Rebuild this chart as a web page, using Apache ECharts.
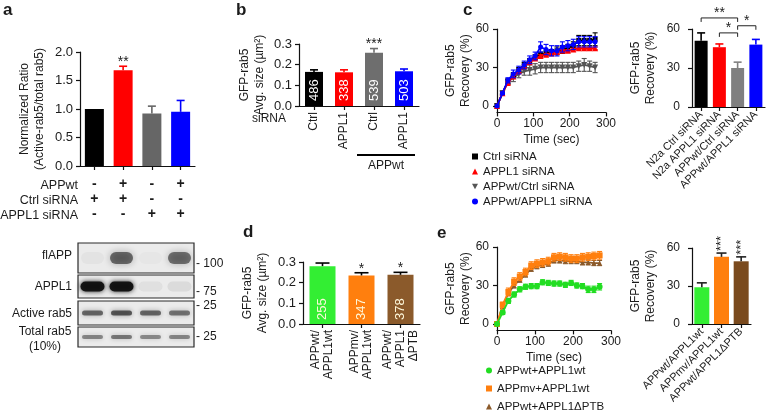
<!DOCTYPE html>
<html><head><meta charset="utf-8">
<script src="https://cdn.jsdelivr.net/npm/echarts@6/dist/echarts.min.js"></script>
<style>html,body{margin:0;padding:0;background:#fff}#c{width:768px;height:416px}</style>
</head><body><div id="c"></div>
<script>
const FONT = "'Liberation Sans', Arial, Helvetica, sans-serif";
const INK = '#1b1b1b';

// ---------- Panel a ----------
const aCategories = ['Ctrl', 'APPwt', 'APPL1 siRNA', 'APPwt + APPL1 siRNA'];
const aValues = [1.0, 1.68, 0.92, 0.95];
const aErrors = [0, 0.07, 0.13, 0.20];
const aSig = ['', '**', '', ''];
const aColors = ['#000000', '#ff0000', '#666666', '#0000ff'];
const aRowLabels = ['APPwt', 'Ctrl siRNA', 'APPL1 siRNA'];
const aRowAPPwt = ['-', '+', '-', '+'];
const aRowCtrl = ['+', '+', '-', '-'];
const aRowAPPL1 = ['-', '-', '+', '+'];

// ---------- Blot ----------
const blotRows = ['flAPP', 'APPL1', 'Active rab5', 'Total rab5\n(10%)'];
const blotMarkers = ['100', '75', '25', '25'];
const blotIntensity = [
  [0.03, 0.55, 0.02, 0.52],
  [0.95, 0.95, 0.05, 0.07],
  [0.55, 0.62, 0.55, 0.50],
  [0.42, 0.48, 0.40, 0.42]
];

// ---------- Panel b ----------
const bCategories = ['Ctrl', 'APPL1', 'Ctrl', 'APPL1'];
const bValues = [0.165, 0.163, 0.258, 0.168];
const bErrors = [0.010, 0.012, 0.020, 0.011];
const bCounts = ['486', '338', '539', '503'];
const bSig = ['', '', '***', ''];
const bColors = ['#000000', '#ff0000', '#6e6e6e', '#0000ff'];
const bGroupLabel = 'APPwt';
const bGroupFrom = 2, bGroupTo = 3;

// ---------- Panel c (FRAP curves) ----------
const cTime = [0, 15, 30, 45, 60, 75, 90, 105, 120, 135, 150, 165, 180, 195, 210, 225, 240, 255, 270];
const cCtrl      = [0, 10, 19, 24, 28, 32, 35, 38, 40, 41, 42, 43, 44, 45, 47, 51, 51, 51, 52];
const cCtrlErr   = [0, 1, 2, 2, 2, 2, 2, 2, 2, 2, 2, 3, 3, 3, 3, 4, 4, 4, 5];
const cAPPL1     = [0, 10, 18, 23, 27, 31, 34, 37, 39, 40, 41, 42, 43, 43, 44, 45, 45, 45, 45];
const cAPPL1Err  = [0, 1, 1, 1, 1, 1, 1, 1, 1, 1, 1, 1, 1, 1, 1, 1, 1, 1, 1];
const cWtCtrl    = [0, 10, 19, 22, 25, 27, 28, 29, 30, 30, 30, 30, 30, 30, 30, 31, 32, 31, 30];
const cWtCtrlErr = [0, 1, 2, 3, 3, 3, 4, 4, 4, 4, 4, 4, 4, 4, 4, 4, 5, 4, 4];
const cWtAPPL1   = [0, 10, 20, 25, 28, 32, 36, 39, 46, 44, 43, 43, 46, 47, 48, 50, 50, 50, 50];
const cWtAPPL1Err= [0, 1, 2, 3, 3, 3, 3, 3, 4, 4, 4, 4, 4, 4, 4, 4, 4, 4, 4];
const cNames = ['Ctrl siRNA', 'APPL1 siRNA', 'APPwt/Ctrl siRNA', 'APPwt/APPL1 siRNA'];

// ---------- Panel c (bars) ----------
const cBarCategories = ['N2a Ctrl siRNA', 'N2a APPL1 siRNA', 'APPwt/Ctrl siRNA', 'APPwt/APPL1 siRNA'];
const cBarValues = [51, 46, 30, 48];
const cBarErrors = [6, 2.5, 4.5, 4];
const cBarColors = ['#000000', '#ff0000', '#808080', '#0000ff'];
const cBrackets = [[0, 2, 68.5, '**'], [1, 2, 57, '*'], [2, 3, 62.5, '*']];

// ---------- Panel d ----------
const dCategories = ['APPwt/\nAPPL1wt', 'APPmv/\nAPPL1wt', 'APPwt/\nAPPL1\nΔPTB'];
const dValues = [0.280, 0.235, 0.238];
const dErrors = [0.015, 0.013, 0.012];
const dCounts = ['255', '347', '378'];
const dSig = ['', '*', '*'];
const dColors = ['#33ee33', '#ff7f0e', '#8b5a2b'];

// ---------- Panel e (FRAP curves) ----------
const eTime = [0, 15, 30, 45, 60, 75, 90, 105, 120, 135, 150, 165, 180, 195, 210, 225, 240, 255, 270];
const eWt      = [0, 9, 18, 23, 27, 29, 29.5, 29.5, 32.5, 32, 31.5, 31.5, 30.5, 32, 30, 29.5, 27, 27, 29];
const eWtErr   = [0, 1.5, 2, 2, 2, 2, 2, 2, 2, 2, 2, 2, 2, 2, 2, 2, 2.5, 2.5, 2.5];
const eMv      = [0, 15, 25, 33, 37, 40.5, 45.5, 47, 48, 49, 52, 52.5, 52, 51, 51, 52, 52.5, 53, 53.5];
const eMvErr   = [0, 2, 3, 3, 3, 3, 3, 3, 3, 3, 3, 3, 3, 3, 3, 3, 3, 3, 3];
const ePtb     = [0, 14, 24, 30, 34.5, 38.5, 43, 45, 46, 47, 49.5, 49.5, 49, 49, 49, 48, 48, 47.5, 47.5];
const ePtbErr  = [0, 2, 2, 2, 2, 2, 2, 2, 2, 2, 2, 2, 2, 2, 2, 2, 2, 2, 2];
const eNames = ['APPwt+APPL1wt', 'APPmv+APPL1wt', 'APPwt+APPL1ΔPTB'];

// ---------- Panel e (bars) ----------
const eBarCategories = ['APPwt/APPL1wt', 'APPmv/APPL1wt', 'APPwt/APPL1ΔPTB'];
const eBarValues = [29, 53, 49.5];
const eBarErrors = [3.5, 3, 3.5];
const eBarSig = ['', '***', '***'];
const eBarColors = ['#33ee33', '#ff7f0e', '#7a4a1e'];

// =====================================================
const zip2 = (a, b) => a.map((v, i) => [v, b[i]]);
const zip3 = (a, b, c) => a.map((v, i) => [v, b[i], c[i]]);
const idx3 = (b, c) => b.map((v, i) => [i, v, c[i]]);

const AX = { color: '#111', width: 1.2 };
function baseAxis(gi) {
  return {
    gridIndex: gi,
    axisLine: { show: true, onZero: false, lineStyle: AX },
    axisTick: { show: true, length: 4, lineStyle: AX },
    axisLabel: { color: INK, fontFamily: FONT, fontSize: 12, margin: 4 },
    splitLine: { show: false },
    nameMoveOverlap: false,
    nameTextStyle: { color: INK, fontFamily: FONT, fontSize: 12, lineHeight: 15 }
  };
}
function catX(gi, data, label) {
  const b = baseAxis(gi);
  return Object.assign(b, {
    type: 'category', data,
    axisTick: { show: true, length: 4, lineStyle: AX, alignWithLabel: true },
    axisLabel: Object.assign({}, b.axisLabel, { interval: 0 }, label || {})
  });
}
function valY(gi, min, max, interval, digits, name, nameGap, fs, margin) {
  const b = baseAxis(gi);
  return Object.assign(b, {
    type: 'value', min, max, interval,
    axisLabel: Object.assign({}, b.axisLabel, { formatter: v => v.toFixed(digits), fontSize: fs, margin }),
    name, nameLocation: 'middle', nameGap, nameRotate: 90
  });
}
function curveY(gi) {
  const b = baseAxis(gi);
  return Object.assign(b, {
    type: 'value', min: -5, max: 60,
    axisLabel: Object.assign({}, b.axisLabel, { customValues: [0, 30, 60], margin: 8 }),
    axisTick: Object.assign({}, b.axisTick, { customValues: [0, 30, 60] }),
    name: 'GFP-rab5\nRecovery (%)', nameLocation: 'middle', nameGap: 24, nameRotate: 90
  });
}
function curveX(gi) {
  const b = baseAxis(gi);
  return Object.assign(b, {
    type: 'value', min: 0, max: 300, interval: 100,
    axisLabel: Object.assign({}, b.axisLabel, { margin: 5 }),
    name: 'Time (sec)', nameLocation: 'middle', nameGap: 21,
    nameTextStyle: { color: INK, fontFamily: FONT, fontSize: 12 }
  });
}

// error bars on bars (upward only), with optional significance text
function barErr(colors, sig, opt) {
  opt = opt || {};
  return function (params, api) {
    const i = api.value(0), v = api.value(1), e = api.value(2);
    const p0 = api.coord([i, v]), p1 = api.coord([i, v + e]);
    const cap = opt.cap || 4;
    const ch = [];
    if (e > 0) {
      ch.push({ type: 'line', shape: { x1: p0[0], y1: p0[1], x2: p1[0], y2: p1[1] }, style: { stroke: colors[i], lineWidth: 1.6 } });
      ch.push({ type: 'line', shape: { x1: p1[0] - cap, y1: p1[1], x2: p1[0] + cap, y2: p1[1] }, style: { stroke: colors[i], lineWidth: 1.6 } });
    }
    if (sig && sig[i]) {
      if (opt.vertical) {
        ch.push({ type: 'text', x: p1[0], y: p1[1] - 2, rotation: Math.PI / 2,
          style: { text: sig[i], align: 'left', verticalAlign: 'middle', font: '13px ' + FONT, fill: INK } });
      } else {
        ch.push({ type: 'text', x: p1[0], y: p1[1] + 3,
          style: { text: sig[i], align: 'center', verticalAlign: 'bottom', font: '14px ' + FONT, fill: INK } });
      }
    }
    return { type: 'group', children: ch };
  };
}
// symmetric error bars for curves
function lineErr(color) {
  return function (params, api) {
    const x = api.value(0), v = api.value(1), e = api.value(2);
    if (!e) return { type: 'group', children: [] };
    const pt = api.coord([x, v + e]), pb = api.coord([x, v - e]);
    const c = 2.5, st = { stroke: color, lineWidth: 1.1 };
    return { type: 'group', children: [
      { type: 'line', shape: { x1: pt[0], y1: pt[1], x2: pb[0], y2: pb[1] }, style: st },
      { type: 'line', shape: { x1: pt[0] - c, y1: pt[1], x2: pt[0] + c, y2: pt[1] }, style: st },
      { type: 'line', shape: { x1: pb[0] - c, y1: pb[1], x2: pb[0] + c, y2: pb[1] }, style: st }
    ] };
  };
}
function curve(name, gi, t, v, color, symbol, size, rot, z) {
  return { type: 'line', name, xAxisIndex: gi, yAxisIndex: gi, data: zip2(t, v), color,
    symbol, symbolSize: size, symbolRotate: rot || 0, lineStyle: { width: 1.8, color }, itemStyle: { color }, z: z };
}
function curveErr(gi, t, v, e, color, z) {
  return { type: 'custom', xAxisIndex: gi, yAxisIndex: gi, data: zip3(t, v, e), encode: { x: 0, y: 1 },
    renderItem: lineErr(color), z: z, silent: true };
}
function bars(gi, values, colors, width, label) {
  return { type: 'bar', xAxisIndex: gi, yAxisIndex: gi, barWidth: width,
    data: values.map((v, i) => ({ value: v, itemStyle: { color: colors[i] } })),
    label: label || { show: false }, z: 2 };
}
function countLabel(counts, color, dist) {
  return { show: true, position: 'insideBottom', rotate: 90, align: 'left', verticalAlign: 'middle',
    distance: dist, color, fontFamily: FONT, fontSize: 13, formatter: p => counts[p.dataIndex] };
}

// blot layout (pixels inside the blot grid, top = 0)
const blotBox = [[0, 30], [32, 55], [58, 82], [84, 104]];
const blotBand = [[23, 12], [24, 10], [21, 5], [21, 4]];

const series = [
  // a
  bars(0, aValues, aColors, 19),
  { type: 'custom', xAxisIndex: 0, yAxisIndex: 0, data: idx3(aValues, aErrors), encode: { x: 0, y: 1 },
    renderItem: barErr(aColors, aSig, { cap: 4 }), z: 3 },
  // b
  bars(1, bValues, bColors, 18, countLabel(bCounts, '#ffffff', 5)),
  { type: 'custom', xAxisIndex: 1, yAxisIndex: 1, data: idx3(bValues, bErrors), encode: { x: 0, y: 1 },
    renderItem: barErr(bColors, bSig, { cap: 4 }), z: 3 },
  { type: 'custom', xAxisIndex: 1, yAxisIndex: 1, data: [[bGroupFrom, 0]], encode: { x: 0, y: 1 },
    renderItem: function (params, api) {
      const p2 = api.coord([bGroupFrom, 0]), p3 = api.coord([bGroupTo, 0]);
      const y = p2[1] + 49;
      return { type: 'group', children: [
        { type: 'line', shape: { x1: p2[0] - 17, y1: y, x2: p3[0] + 11, y2: y }, style: { stroke: '#000', lineWidth: 2 } },
        { type: 'text', x: (p2[0] + p3[0]) / 2 - 3, y: y + 5, style: { text: bGroupLabel, align: 'center', verticalAlign: 'top', font: '12px ' + FONT, fill: INK } }
      ] };
    } },
  // c curves
  curveErr(2, cTime, cWtCtrl, cWtCtrlErr, '#555555', 4),
  curve(cNames[2], 2, cTime, cWtCtrl, '#555555', 'triangle', 6, 180, 5),
  curveErr(2, cTime, cCtrl, cCtrlErr, '#000000', 4),
  curve(cNames[0], 2, cTime, cCtrl, '#000000', 'rect', 5, 0, 5),
  curveErr(2, cTime, cAPPL1, cAPPL1Err, '#ff0000', 6),
  curve(cNames[1], 2, cTime, cAPPL1, '#ff0000', 'triangle', 6, 0, 6),
  curveErr(2, cTime, cWtAPPL1, cWtAPPL1Err, '#0000ff', 7),
  curve(cNames[3], 2, cTime, cWtAPPL1, '#0000ff', 'circle', 5, 0, 7),
  // c bars
  bars(3, cBarValues, cBarColors, 13),
  { type: 'custom', xAxisIndex: 3, yAxisIndex: 3, data: idx3(cBarValues, cBarErrors), encode: { x: 0, y: 1 },
    renderItem: barErr(cBarColors, null, { cap: 4 }), z: 3 },
  { type: 'custom', xAxisIndex: 3, yAxisIndex: 3, data: cBrackets.map(b => [b[0], b[2]]), encode: { x: 0, y: 1 },
    renderItem: function (params, api) {
      const br = cBrackets[params.dataIndex];
      const p1 = api.coord([br[0], br[2]]), p2 = api.coord([br[1], br[2]]);
      const y = p1[1];
      return { type: 'group', children: [
        { type: 'polyline', shape: { points: [[p1[0], y + 4], [p1[0], y], [p2[0], y], [p2[0], y + 4]] }, style: { stroke: '#222', lineWidth: 1, fill: null } },
        { type: 'text', x: (p1[0] + p2[0]) / 2, y: y + 2, style: { text: br[3], align: 'center', verticalAlign: 'bottom', font: '14px ' + FONT, fill: INK } }
      ] };
    }, z: 3 },
  // d
  bars(4, dValues, dColors, 26, countLabel(dCounts, '#fff9dc', 4)),
  { type: 'custom', xAxisIndex: 4, yAxisIndex: 4, data: idx3(dValues, dErrors), encode: { x: 0, y: 1 },
    renderItem: barErr(['#000', '#000', '#000'], dSig, { cap: 7 }), z: 3 },
  // e curves
  curveErr(5, eTime, ePtb, ePtbErr, '#8b5a2b', 4),
  curve(eNames[2], 5, eTime, ePtb, '#8b5a2b', 'triangle', 5, 0, 5),
  curveErr(5, eTime, eMv, eMvErr, '#ff7f0e', 6),
  curve(eNames[1], 5, eTime, eMv, '#ff7f0e', 'rect', 6, 0, 6),
  curveErr(5, eTime, eWt, eWtErr, '#22dd22', 7),
  curve(eNames[0], 5, eTime, eWt, '#22dd22', 'circle', 6, 0, 7),
  // e bars
  bars(6, eBarValues, eBarColors, 15),
  { type: 'custom', xAxisIndex: 6, yAxisIndex: 6, data: idx3(eBarValues, eBarErrors), encode: { x: 0, y: 1 },
    renderItem: barErr(['#222', '#222', '#222'], eBarSig, { cap: 5, vertical: true }), z: 3 },
  // blot frames
  { type: 'custom', xAxisIndex: 7, yAxisIndex: 7, data: blotRows.map((r, i) => [0, i]), encode: { x: 0, y: 1 },
    renderItem: function (params, api) {
      const r = params.dataIndex;
      const a = api.coord([0, blotBox[r][0]]), b = api.coord([4, blotBox[r][1]]);
      return { type: 'rect', shape: { x: a[0], y: a[1], width: b[0] - a[0], height: b[1] - a[1] },
        style: { fill: '#ebebeb', stroke: '#2a2a2a', lineWidth: 1.2 } };
    }, z: 1 },
  // blot bands
  { type: 'custom', xAxisIndex: 7, yAxisIndex: 7,
    data: blotIntensity.flatMap((row, r) => row.map((v, l) => [l + 0.5, r, v])), encode: { x: 0, y: 1 },
    renderItem: function (params, api) {
      const lane = api.value(0), r = api.value(1), inten = api.value(2);
      const cy = (blotBox[r][0] + blotBox[r][1]) / 2;
      const c = api.coord([lane, cy]);
      const w = blotBand[r][0], h = blotBand[r][1];
      const col = 'rgba(15,15,15,' + inten + ')';
      return { type: 'rect', shape: { x: c[0] - w / 2, y: c[1] - h / 2, width: w, height: h, r: h / 2 },
        style: { fill: col, shadowBlur: r === 0 ? 7 : 5, shadowColor: col } };
    }, z: 2 }
];

const grids = [
  { left: 80, top: 52, width: 115, height: 114 },
  { left: 299, top: 44, width: 120, height: 62 },
  { left: 497, top: 29, width: 109, height: 83.4 },
  { left: 692, top: 29, width: 73, height: 78 },
  { left: 303, top: 262, width: 117, height: 62 },
  { left: 497, top: 247, width: 114, height: 83.4 },
  { left: 692, top: 248, width: 59, height: 76 },
  { left: 78, top: 243, width: 116, height: 104 }
];

const xAxes = [
  catX(0, aCategories, { formatter: (v, i) => aRowAPPwt[i] + '\n' + aRowCtrl[i] + '\n' + aRowAPPL1[i],
    fontSize: 14, fontWeight: 'bold', lineHeight: 15, margin: 11 }),
  catX(1, bCategories, { rotate: 90, fontSize: 12, margin: 6 }),
  curveX(2),
  catX(3, cBarCategories, { rotate: 45, fontSize: 11, margin: 6 }),
  catX(4, dCategories, { rotate: 90, fontSize: 12, lineHeight: 13, margin: 6 }),
  curveX(5),
  catX(6, eBarCategories, { rotate: 45, fontSize: 11, margin: 6 }),
  { type: 'value', gridIndex: 7, min: 0, max: 4, show: false }
];
const yAxes = [
  valY(0, 0, 2, 0.5, 1, 'Normalized Ratio\n(Active-rab5/total rab5)', 33, 13, 7),
  valY(1, 0, 0.3, 0.1, 1, 'GFP-rab5\nAvg. size (µm²)', 32, 13, 7),
  curveY(2),
  valY(3, 0, 60, 30, 0, 'GFP-rab5\nRecovery (%)', 34, 12, 12),
  valY(4, 0, 0.3, 0.1, 1, 'GFP-rab5\nAvg. size (µm²)', 33, 13, 7),
  curveY(5),
  valY(6, 0, 60, 30, 0, 'GFP-rab5\nRecovery (%)', 34, 12, 12),
  { type: 'value', gridIndex: 7, min: 0, max: 104, inverse: true, show: false }
];

const txt = (text, x, y, opt) => ({ type: 'text', x, y, silent: true,
  style: Object.assign({ text, fill: INK, font: '12px ' + FONT, align: 'right', verticalAlign: 'middle' }, opt || {}) });
const letter = (t, x, y) => txt(t, x, y, { font: 'bold 17px ' + FONT, align: 'left', verticalAlign: 'middle' });

const rowY = [185.5, 200.5, 215.5];
const blotLabelY = [256, 287, 314, 339];
const blotMarkerY = [264, 292, 306, 337];
const graphics = [
  letter('a', 3, 10), letter('b', 236, 10), letter('c', 463, 10), letter('d', 243, 232), letter('e', 437, 233),
  ...aRowLabels.map((t, i) => txt(t, 78, rowY[i], { font: '12.5px ' + FONT })),
  ...blotRows.map((t, i) => txt(t, i === 3 ? 45 : 72, blotLabelY[i], i === 3 ? { align: 'center', lineHeight: 15 } : {})),
  ...blotMarkers.map((t, i) => txt('- ' + t, 196, blotMarkerY[i], { align: 'left' })),
  txt('siRNA', 286, 119)
];

const legendBase = { orient: 'vertical', itemWidth: 6, itemHeight: 6, padding: 0, selectedMode: false,
  textStyle: { color: INK, fontFamily: FONT, fontSize: 11.5, lineHeight: 13 } };

const option = {
  animation: false,
  backgroundColor: '#ffffff',
  textStyle: { fontFamily: FONT },
  grid: grids,
  xAxis: xAxes,
  yAxis: yAxes,
  legend: [
    Object.assign({}, legendBase, { left: 472, top: 150, itemGap: 2,
      data: [{ name: cNames[0], icon: 'rect' }, { name: cNames[1], icon: 'triangle' },
             { name: cNames[2], icon: 'path://M0,0L10,0L5,9Z' }, { name: cNames[3], icon: 'circle' }] }),
    Object.assign({}, legendBase, { left: 486, top: 364, itemGap: 5, height: 52,
      data: [{ name: eNames[0], icon: 'circle' }, { name: eNames[1], icon: 'rect' }, { name: eNames[2], icon: 'triangle' }] })
  ],
  series,
  graphic: graphics
};
const chart = echarts.init(document.getElementById('c'), null, { renderer: 'canvas' });
chart.setOption(option);
</script></body></html>
